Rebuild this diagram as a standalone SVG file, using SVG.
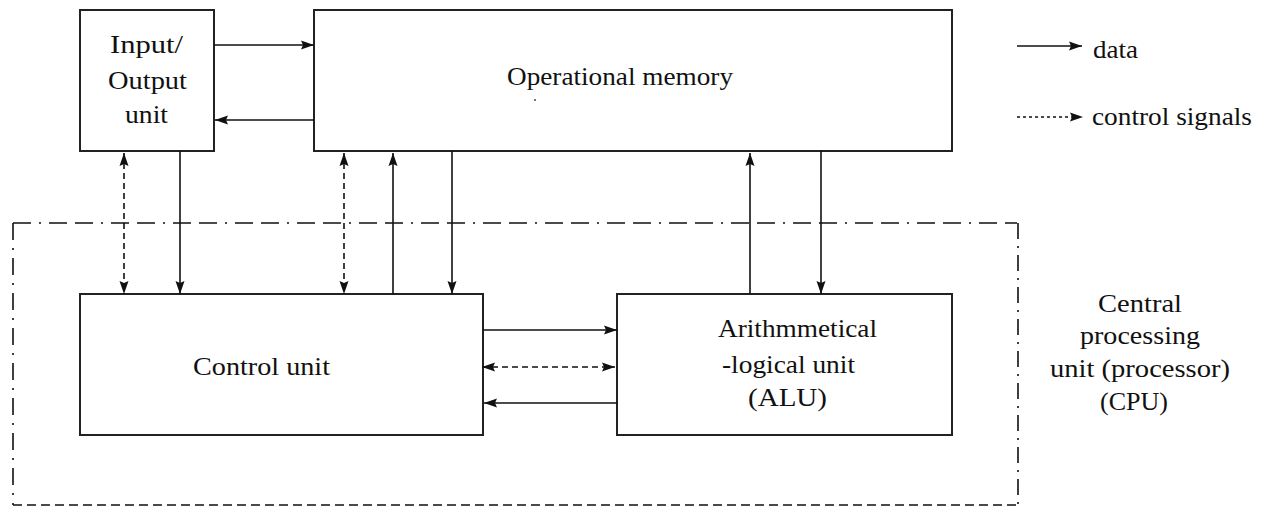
<svg xmlns="http://www.w3.org/2000/svg" width="1265" height="508" viewBox="0 0 1265 508">
<style>
.box{fill:#fff;stroke:#222;stroke-width:2}
.ln{fill:none;stroke:#111;stroke-width:1.6}
.ds{stroke-dasharray:6 4}
.dt{stroke-dasharray:3 3}
.cpu{fill:none;stroke:#111;stroke-width:1.6}
.t{font-family:'Liberation Serif','Times New Roman',serif;font-size:26px;fill:#111}
</style>
<defs>
<marker id="ah" viewBox="0 0 14 10" refX="13" refY="5" markerWidth="14" markerHeight="10" markerUnits="userSpaceOnUse" orient="auto-start-reverse">
<path d="M0,0.5 L13,5 L0,9.5 L2,5 z" fill="#111"/>
</marker>
</defs>
<rect width="1265" height="508" fill="#fff"/>
<g id="cpu-boundary">
<line class="cpu" x1="13" y1="223" x2="1017" y2="223" stroke-dasharray="18 8 2 8 18 8"/>
<line class="cpu" x1="1018" y1="223" x2="1018" y2="505" stroke-dasharray="16 7 2 7"/>
<line class="cpu" x1="13" y1="223" x2="13" y2="505" stroke-dasharray="17 8 2 8"/>
<line class="cpu" x1="13" y1="505" x2="1018" y2="505" stroke-dasharray="9 5"/>
<text class="t" x="1098" y="312" textLength="84" lengthAdjust="spacingAndGlyphs">Central</text>
<text class="t" x="1080" y="344" textLength="120" lengthAdjust="spacingAndGlyphs">processing</text>
<text class="t" x="1050" y="377" textLength="180" lengthAdjust="spacingAndGlyphs">unit (processor)</text>
<text class="t" x="1100" y="410" textLength="68" lengthAdjust="spacingAndGlyphs">(CPU)</text>
</g>
<g id="io-unit">
<rect class="box" x="80" y="10" width="134" height="141"/>
<text class="t" x="110" y="53" textLength="73" lengthAdjust="spacingAndGlyphs">Input/</text>
<text class="t" x="108" y="89" textLength="79" lengthAdjust="spacingAndGlyphs">Output</text>
<text class="t" x="125" y="123" textLength="43" lengthAdjust="spacingAndGlyphs">unit</text>
</g>
<g id="operational-memory">
<rect class="box" x="314" y="10" width="638" height="141"/>
<text class="t" x="507" y="85" textLength="226" lengthAdjust="spacingAndGlyphs">Operational memory</text>
<circle cx="535" cy="100" r="0.9" fill="#333"/>
</g>
<g id="control-unit">
<rect class="box" x="80" y="294" width="403" height="141"/>
<text class="t" x="193" y="375" textLength="137" lengthAdjust="spacingAndGlyphs">Control unit</text>
</g>
<g id="alu">
<rect class="box" x="617" y="294" width="335" height="141"/>
<text class="t" x="718" y="337" textLength="159" lengthAdjust="spacingAndGlyphs">Arithmmetical</text>
<text class="t" x="722" y="373" textLength="133" lengthAdjust="spacingAndGlyphs">-logical unit</text>
<text class="t" x="748" y="406" textLength="79" lengthAdjust="spacingAndGlyphs">(ALU)</text>
</g>
<g id="legend">
<line class="ln" x1="1017" y1="46" x2="1082" y2="46" marker-end="url(#ah)"/>
<text class="t" x="1093" y="58" textLength="45" lengthAdjust="spacingAndGlyphs">data</text>
<line class="ln dt" x1="1017" y1="117" x2="1083" y2="117" marker-end="url(#ah)"/>
<text class="t" x="1092" y="125" textLength="160" lengthAdjust="spacingAndGlyphs">control signals</text>
</g>
<g id="connectors">
<line class="ln" x1="214" y1="45" x2="314" y2="45" marker-end="url(#ah)"/>
<line class="ln" x1="314" y1="120" x2="215" y2="120" marker-end="url(#ah)"/>
<line class="ln ds" x1="124" y1="153" x2="124" y2="294" marker-start="url(#ah)" marker-end="url(#ah)"/>
<line class="ln" x1="180" y1="151" x2="180" y2="294" marker-end="url(#ah)"/>
<line class="ln ds" x1="344" y1="153" x2="344" y2="294" marker-start="url(#ah)" marker-end="url(#ah)"/>
<line class="ln" x1="393" y1="294" x2="393" y2="153" marker-end="url(#ah)"/>
<line class="ln" x1="452" y1="151" x2="452" y2="294" marker-end="url(#ah)"/>
<line class="ln" x1="750" y1="294" x2="750" y2="153" marker-end="url(#ah)"/>
<line class="ln" x1="821" y1="151" x2="821" y2="294" marker-end="url(#ah)"/>
<line class="ln" x1="483" y1="330" x2="617" y2="330" marker-end="url(#ah)"/>
<line class="ln ds" x1="482" y1="367" x2="615" y2="367" marker-start="url(#ah)" marker-end="url(#ah)"/>
<line class="ln" x1="617" y1="403" x2="484" y2="403" marker-end="url(#ah)"/>
</g>
</svg>
